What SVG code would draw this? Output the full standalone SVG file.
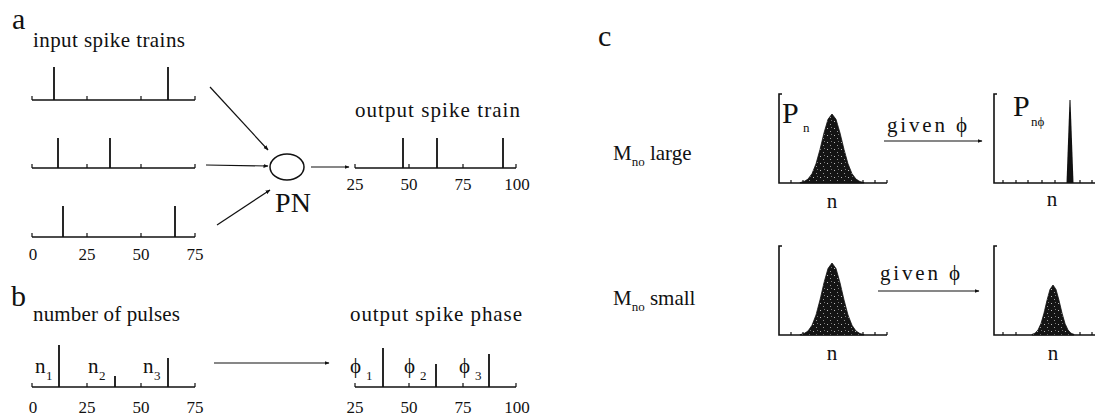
<svg xmlns="http://www.w3.org/2000/svg" width="1097" height="416" viewBox="0 0 1097 416" font-family="'Liberation Serif', 'DejaVu Serif', serif">
<style>
text,tspan{font-family:"Liberation Serif","DejaVu Serif",serif;fill:#111}
.big{font-family:"Liberation Serif","DejaVu Serif",serif;font-size:30px}
.lbl{font-family:"Liberation Serif","DejaVu Serif",serif;font-size:21px}
.tk{font-family:"Liberation Serif","DejaVu Serif",serif;font-size:17px;text-anchor:middle}
.sub{font-family:"Liberation Serif","DejaVu Serif",serif;font-size:13px}
.ax{stroke:#111;stroke-width:1.6;fill:none}
.sp{stroke:#111;stroke-width:1.8}
.tick{stroke:#111;stroke-width:1.2}
.con{stroke:#111;stroke-width:1.2;fill:none;marker-end:url(#ah)}
.g{fill:url(#speck);stroke:#111;stroke-width:0.8}
</style>
<defs>
<marker id="ah" viewBox="0 0 10 10" refX="9" refY="5" markerWidth="5" markerHeight="5" orient="auto" markerUnits="userSpaceOnUse">
<path d="M0,1 L10,5 L0,9 Z" fill="#111"/>
</marker>
<pattern id="speck" width="7" height="7" patternUnits="userSpaceOnUse">
<rect width="7" height="7" fill="#141414"/>
<rect x="1" y="2" width="1" height="1" fill="#bbb"/>
<rect x="4" y="5" width="1" height="1" fill="#999"/>
<rect x="5" y="1" width="1" height="1" fill="#777"/>
</pattern>
</defs>
<rect width="1097" height="416" fill="#fff"/>

<g id="panel-a">
<text class="big" x="12" y="29">a</text>
<text class="lbl" x="33" y="47" textLength="152" lengthAdjust="spacing">input spike trains</text>
</g>

<g id="input-train-1">
<path class="ax" d="M32,100 H195"/>
<path class="tick" d="M32,96 V100 M87,96 V100 M141,96 V100 M195,96 V100"/>
<path class="sp" d="M54,67 V100 M168,67 V100"/>
</g>
<g id="input-train-2">
<path class="ax" d="M32,168 H195"/>
<path class="tick" d="M32,164 V168 M87,164 V168 M141,164 V168 M195,164 V168"/>
<path class="sp" d="M58,138 V168 M110,138 V168"/>
</g>
<g id="input-train-3">
<path class="ax" d="M32,237 H195"/>
<path class="tick" d="M32,233 V237 M87,233 V237 M141,233 V237 M195,233 V237"/>
<path class="sp" d="M63,206 V237 M175,206 V237"/>
<text class="tk" x="33" y="260">0</text>
<text class="tk" x="87" y="260">25</text>
<text class="tk" x="141" y="260">50</text>
<text class="tk" x="195" y="260">75</text>
</g>

<g id="PN">
<ellipse cx="287" cy="167" rx="17" ry="13" fill="#fff" stroke="#111" stroke-width="1.5"/>
<text class="big" x="293" y="212" text-anchor="middle" style="font-size:28px">PN</text>
</g>

<g id="output-train">
<text class="lbl" x="355" y="117" textLength="165" lengthAdjust="spacing">output spike train</text>
<path class="ax" d="M355,168 H516"/>
<path class="tick" d="M355,164 V168 M409,164 V168 M463,164 V168 M516,164 V168"/>
<path class="sp" d="M403,138 V168 M437,138 V168 M503,138 V168"/>
<text class="tk" x="355" y="190">25</text>
<text class="tk" x="409" y="190">50</text>
<text class="tk" x="463" y="190">75</text>
<text class="tk" x="517" y="190">100</text>
</g>

<g id="panel-b">
<text class="big" x="11" y="306">b</text>
<text class="lbl" x="33" y="321" textLength="147" lengthAdjust="spacing">number of pulses</text>
</g>

<g id="pulses-train">
<path class="ax" d="M32,387 H195"/>
<path class="tick" d="M32,383 V387 M87,383 V387 M141,383 V387 M195,383 V387"/>
<path class="sp" d="M59,345 V387 M115,376 V387 M168,358 V387"/>
<text class="lbl" x="35" y="373">n</text><text class="sub" x="46" y="380">1</text>
<text class="lbl" x="88" y="373">n</text><text class="sub" x="99" y="380">2</text>
<text class="lbl" x="143" y="373">n</text><text class="sub" x="154" y="380">3</text>
<text class="tk" x="33" y="413">0</text>
<text class="tk" x="87" y="413">25</text>
<text class="tk" x="141" y="413">50</text>
<text class="tk" x="195" y="413">75</text>
</g>

<g id="phase-train">
<text class="lbl" x="350" y="321" textLength="172" lengthAdjust="spacing">output spike phase</text>
<path class="ax" d="M355,387 H516"/>
<path class="tick" d="M355,383 V387 M409,383 V387 M463,383 V387 M516,383 V387"/>
<path class="sp" d="M383,348 V387 M436,364 V387 M489,354 V387"/>
<text class="lbl" x="350" y="373">ϕ</text><text class="sub" x="366" y="380">1</text>
<text class="lbl" x="404" y="373">ϕ</text><text class="sub" x="420" y="380">2</text>
<text class="lbl" x="459" y="373">ϕ</text><text class="sub" x="475" y="380">3</text>
<text class="tk" x="355" y="413">25</text>
<text class="tk" x="409" y="413">50</text>
<text class="tk" x="463" y="413">75</text>
<text class="tk" x="517" y="413">100</text>
</g>

<g id="panel-c">
<text class="big" x="598" y="46">c</text>
<text class="lbl" x="613" y="160">M<tspan class="sub" dy="6">no</tspan><tspan dy="-6"> large</tspan></text>
<text class="lbl" x="613" y="305">M<tspan class="sub" dy="6">no</tspan><tspan dy="-6"> small</tspan></text>
</g>

<g id="dist-large-prior">
<path class="ax" d="M782,94 H779 V183 H887"/>
<path class="tick" d="M791,180 V183 M803,180 V183 M815,180 V183 M851,180 V183 M863,180 V183 M875,180 V183 M887,180 V183"/>
<path class="g" d="M800,183 L800,182.6 804,181.6 808,179.1 812,173.7 816,163.8 820,149.4 824,132.9 828,119.3 832,114 836,119.3 840,132.9 844,149.4 848,163.8 852,173.7 856,179.1 860,181.6 864,182.6 864,183 Z"/>
<text class="big" x="782" y="123">P</text><text class="sub" x="803" y="132">n</text>
<text class="lbl" x="832" y="208" text-anchor="middle">n</text>
</g>

<g id="dist-large-post">
<path class="ax" d="M997,94 H994 V183 H1095"/>
<path class="tick" d="M1003,180 V183 M1016,180 V183 M1028,180 V183 M1042,180 V183 M1055,180 V183 M1080,180 V183 M1092,180 V183"/>
<path d="M1066.5,183 L1069.5,100 L1070.5,100 L1073.5,183 Z" fill="#111"/>
<text class="big" x="1013" y="116">P</text><text class="sub" x="1031" y="126">nϕ</text>
<text class="lbl" x="1052" y="206" text-anchor="middle">n</text>
</g>

<g id="dist-small-prior">
<path class="ax" d="M782,246 H779 V335 H887"/>
<path class="tick" d="M791,332 V335 M803,332 V335 M863,332 V335 M875,332 V335 M887,332 V335"/>
<path class="g" d="M800,335 L800,334.6 804,333.6 808,331 812,325.3 816,315 820,299.9 824,282.7 828,268.5 832,263 836,268.5 840,282.7 844,299.9 848,315 852,325.3 856,331 860,333.6 864,334.6 864,335 Z"/>
<text class="lbl" x="832" y="360" text-anchor="middle">n</text>
</g>

<g id="dist-small-post">
<path class="ax" d="M997,246 H994 V335 H1095"/>
<path class="tick" d="M1003,332 V335 M1016,332 V335 M1080,332 V335 M1092,332 V335"/>
<path class="g" d="M1032,335 L1032,334.4 1035,333.2 1038,330 1041,323.5 1044,313.1 1047,300.3 1050,289.4 1053,285 1056,289.4 1059,300.3 1062,313.1 1065,323.5 1068,330 1071,333.2 1074,334.4 1074,335 Z"/>
<text class="lbl" x="1053" y="360" text-anchor="middle">n</text>
</g>

<g id="given-labels">
<text class="lbl" x="887" y="132" textLength="80" lengthAdjust="spacing">given ϕ</text>
<text class="lbl" x="880" y="280" textLength="80" lengthAdjust="spacing">given ϕ</text>
</g>

<g id="connectors">
<path class="con" d="M210,87 L268,150"/>
<path class="con" d="M206,165 L268,166"/>
<path class="con" d="M217,225 L270,190"/>
<path class="con" d="M311,167 L349,167"/>
<path class="con" d="M214,363 L329,363"/>
<path class="con" d="M884,141 L982,141"/>
<path class="con" d="M878,291 L979,291"/>
</g>
</svg>
